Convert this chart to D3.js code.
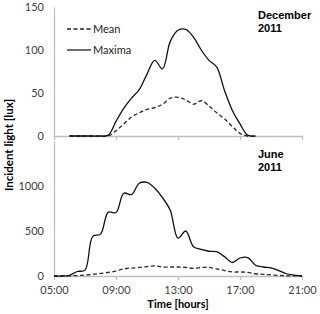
<!DOCTYPE html>
<html>
<head>
<meta charset="utf-8">
<script src="https://cdn.jsdelivr.net/npm/d3@7"></script>
<style>
  body { margin: 0; background: #fff; }
  text { font-family: Lato, "Open Sans", sans-serif; }
  .axis path, .axis line { stroke: #bfbfbf; stroke-width: 1.3; }
  .axis text { font-size: 11px; fill: #404040; }
</style>
</head>
<body>
<script>
// Data (hours of day, lux)
const decHours = [6, 6.5, 7, 7.5, 8, 8.5, 9, 9.5, 10, 10.5, 11, 11.5, 12, 12.5, 13, 13.5, 14, 14.5, 15, 15.5, 16, 16.5, 17, 17.5, 18];
const decMean  = [0, 0, 0, 0, 0, 0, 6, 14, 22, 27, 31, 33, 37, 44, 45, 42, 37, 41, 35, 27, 20, 11, 3, 0, 0];
const decMax   = [0, 0, 0, 0, 0, 1, 17, 32, 44, 54, 72, 88, 78, 110, 123, 124, 115, 100, 88, 80, 53, 30, 14, 1, 0];

const junHours = [5, 5.5, 6, 6.5, 7, 7.5, 8, 8.5, 9, 9.5, 10, 10.5, 11, 11.5, 12, 12.5, 13, 13.5, 14, 14.5, 15, 15.5, 16, 16.5, 17, 17.5, 18, 18.5, 19, 19.5, 20, 20.5, 21];
const junMean  = [0, 0, 2, 5, 10, 18, 28, 40, 55, 80, 88, 95, 105, 112, 100, 100, 100, 95, 85, 95, 95, 80, 60, 45, 45, 40, 25, 18, 12, 6, 3, 1, 0];
const junMax   = [0, 0, 8, 50, 65, 440, 465, 710, 705, 920, 905, 1030, 1040, 975, 870, 730, 420, 500, 325, 295, 275, 270, 215, 150, 200, 205, 120, 100, 90, 60, 25, 10, 0];

const xTicks = [5, 9, 13, 17, 21];
const topTicks = [0, 50, 100, 150];
const botTicks = [0, 500, 1000];

const svg = d3.select("body").append("svg")
    .attr("width", 320)
    .attr("height", 314);

var x = d3.scaleLinear().domain([5, 21]).range([54, 302]);
var yTop = d3.scaleLinear().domain([0, 150]).range([136, 7]);
var yBot = d3.scaleLinear().domain([0, 1500]).range([276, 141]);

const hhmm = h => (h < 10 ? "0" : "") + h + ":00";

// Axes - top panel
svg.append("g").attr("class", "axis")
    .attr("transform", "translate(54,0)")
    .call(d3.axisLeft(yTop).tickValues(topTicks).tickSize(0).tickPadding(10).tickFormat(d3.format("d")));
svg.append("g").attr("class", "axis")
    .attr("transform", "translate(0,136)")
    .call(d3.axisBottom(x).tickValues(xTicks).tickSizeInner(4).tickSizeOuter(0).tickFormat(""));

// Axes - bottom panel
svg.append("g").attr("class", "axis")
    .attr("transform", "translate(54,0)")
    .call(d3.axisLeft(yBot).tickValues(botTicks).tickSize(0).tickPadding(10).tickFormat(d3.format("d")));
svg.append("g").attr("class", "axis")
    .attr("transform", "translate(0,276)")
    .call(d3.axisBottom(x).tickValues(xTicks).tickSizeInner(4).tickSizeOuter(0).tickPadding(6).tickFormat(hhmm));

function series(hours, vals, y, dashed) {
  const line = d3.line()
      .x((d, i) => x(hours[i]))
      .y(d => y(d))
      .curve(d3.curveCatmullRom);
  svg.append("path")
      .datum(vals)
      .attr("fill", "none")
      .attr("stroke", dashed ? "#2a2a2a" : "#111")
      .attr("stroke-width", 1.3)
      .attr("stroke-dasharray", dashed ? "4,2.5" : null)
      .attr("d", line);
}

series(decHours, decMean, yTop, true);
series(decHours, decMax, yTop, false);
series(junHours, junMean, yBot, true);
series(junHours, junMax, yBot, false);

// Legend
const legend = [{name: "Mean", dash: "4,2.5", y: 29}, {name: "Maxima", dash: null, y: 50}];
legend.forEach(l => {
  svg.append("line")
      .attr("x1", 67).attr("x2", 91)
      .attr("y1", l.y).attr("y2", l.y)
      .attr("stroke", "#222").attr("stroke-width", 1.3)
      .attr("stroke-dasharray", l.dash);
  svg.append("text")
      .attr("x", 93).attr("y", l.y + 4)
      .attr("font-size", 11).attr("fill", "#222")
      .text(l.name);
});

// Panel titles
function title(lines, y0) {
  const t = svg.append("text")
      .attr("x", 258).attr("y", y0)
      .style("font-family", "'Liberation Sans', Arial, sans-serif")
      .attr("font-size", 11).attr("font-weight", "bold");
  lines.forEach((s, i) => t.append("tspan").attr("x", 258).attr("dy", i ? 13 : 0).text(s));
}
title(["December", "2011"], 19);
title(["June", "2011"], 158);

// Axis titles
svg.append("text")
    .attr("transform", "translate(13,145) rotate(-90)")
    .attr("text-anchor", "middle")
    .attr("font-size", 11.5).attr("font-weight", "bold")
    .text("Incident light [lux]");

svg.append("text")
    .attr("x", 178).attr("y", 308)
    .attr("text-anchor", "middle")
    .attr("font-size", 11).attr("font-weight", "bold")
    .text("Time [hours]");
</script>
</body>
</html>
